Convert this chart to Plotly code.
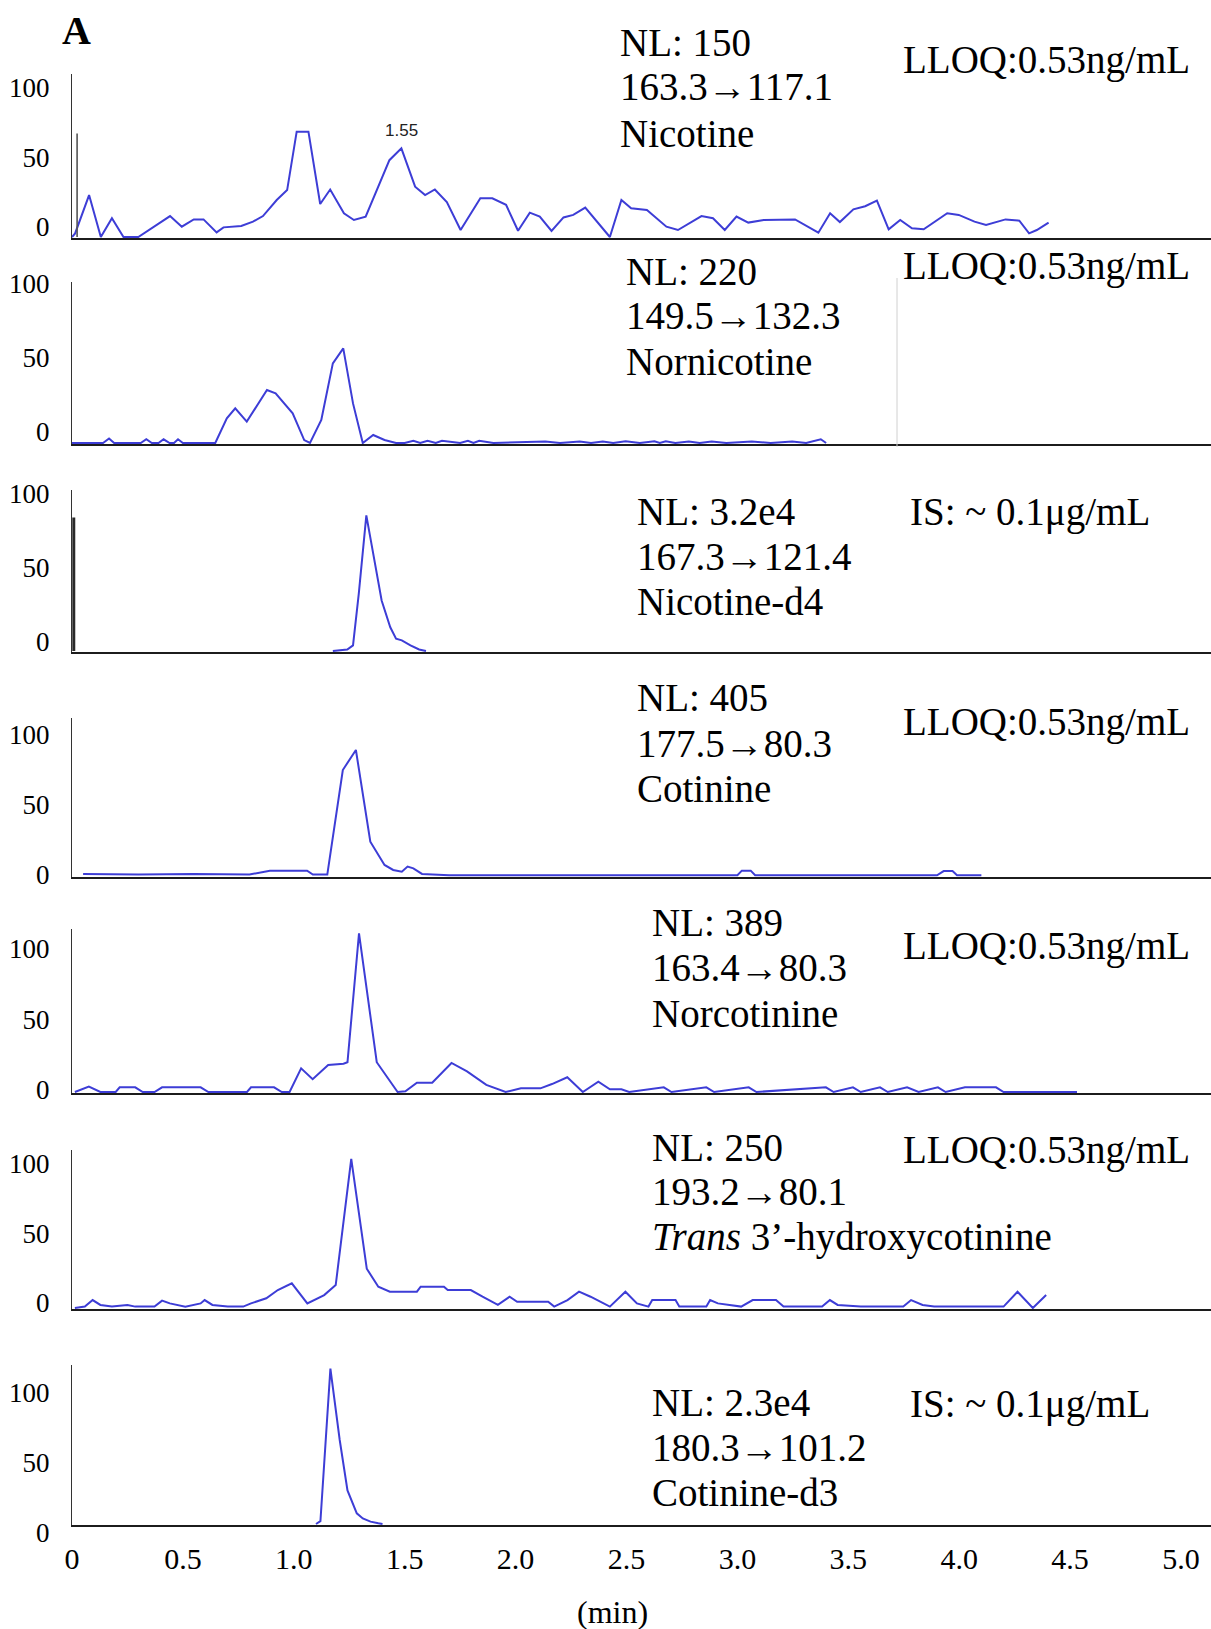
import plotly.graph_objects as go

# ---------------------------------------------------------------
# Chromatogram traces: (retention time / min, relative abundance / %)
# ---------------------------------------------------------------
NICOTINE = [
    (0.0, 0), (0.014, 2.6), (0.077, 30), (0.130, 0), (0.180, 13.4), (0.232, 0),
    (0.299, 0), (0.442, 15), (0.495, 7.4), (0.549, 12.6), (0.593, 12.6), (0.652, 3.3),
    (0.683, 6.9), (0.763, 7.9), (0.816, 11), (0.861, 15), (0.923, 26.5), (0.970, 33.6),
    (1.013, 75.4), (1.066, 75.4), (1.119, 23.6), (1.164, 34), (1.226, 17), (1.271, 12.2),
    (1.324, 14.6), (1.431, 55), (1.485, 63.5), (1.547, 36), (1.592, 30), (1.636, 34),
    (1.690, 25), (1.752, 5), (1.841, 27.7), (1.895, 27.7), (1.957, 23), (2.011, 4.5),
    (2.064, 17.4), (2.109, 14.6), (2.162, 4.3), (2.216, 14), (2.260, 15.8), (2.314, 21),
    (2.425, 0), (2.477, 26.5), (2.521, 20.5), (2.592, 19.3), (2.680, 7.4), (2.732, 5),
    (2.838, 15), (2.890, 13.4), (2.943, 5), (2.996, 14.6), (3.049, 10.3), (3.119, 12.2),
    (3.260, 12.6), (3.365, 3.1), (3.418, 17), (3.462, 10.7), (3.523, 19.8), (3.576, 22),
    (3.629, 26), (3.682, 5.5), (3.734, 12.2), (3.787, 6.2), (3.840, 5.5), (3.946, 17),
    (3.998, 15.8), (4.069, 11), (4.121, 8.6), (4.209, 12.6), (4.271, 11.7), (4.315, 2.6),
    (4.350, 5), (4.403, 10.3),
]

NORNICOTINE = [
    (0.0, 0), (0.14, 0), (0.167, 3), (0.19, 0), (0.31, 0), (0.335, 2.5), (0.36, 0),
    (0.39, 0), (0.413, 2.5), (0.44, 0), (0.46, 0), (0.478, 2.5), (0.50, 0), (0.646, 0),
    (0.698, 16.6), (0.736, 23.4), (0.788, 14.4), (0.879, 35.7), (0.918, 33.5), (0.995, 20),
    (1.047, 2), (1.073, 0), (1.124, 15.5), (1.176, 53.7), (1.223, 63.8), (1.267, 26.7),
    (1.311, 0), (1.358, 5.4), (1.409, 2), (1.461, 0), (1.50, 0), (1.539, 1.5), (1.57, 0),
    (1.603, 1.5), (1.64, 0), (1.668, 1.5), (1.75, 0), (1.785, 1.5), (1.81, 0), (1.836, 1.5),
    (1.9, 0), (2.134, 1), (2.2, 0), (2.289, 1), (2.34, 0), (2.393, 1), (2.44, 0),
    (2.496, 1.2), (2.56, 0), (2.626, 1.2), (2.65, 0), (2.677, 1.2), (2.72, 0), (2.781, 1),
    (2.83, 0), (2.884, 1), (2.95, 0), (3.065, 1), (3.15, 0), (3.247, 1), (3.31, 0),
    (3.376, 2.5), (3.40, 0),
]

NICOTINE_D4 = [
    (1.176, 0), (1.241, 1), (1.267, 3.8), (1.293, 38.6), (1.327, 91.4), (1.358, 65.6),
    (1.396, 34), (1.435, 16), (1.461, 8.3), (1.487, 7.2), (1.526, 3.8), (1.565, 1),
    (1.596, 0),
]

COTININE = [
    (0.05, 1.5), (0.30, 1.0), (0.55, 1.5), (0.788, 1.5), (0.80, 1.0), (0.892, 3.8),
    (1.060, 3.8), (1.086, 1.0), (1.151, 1.0), (1.221, 75.7), (1.280, 90), (1.345, 24.5),
    (1.409, 7.9), (1.448, 4.3), (1.487, 3.1), (1.513, 6.7), (1.539, 5.5), (1.578, 1.5),
    (1.70, 0.5), (2.50, 0.5), (3.00, 0.5), (3.02, 3.8), (3.06, 3.8), (3.08, 0.5),
    (3.90, 0.5), (3.93, 3.5), (3.97, 3.5), (3.99, 0.5), (4.10, 0.5),
]

NORCOTININE = [
    (0.013, 0), (0.076, 3.8), (0.128, 0), (0.197, 0), (0.215, 3.3), (0.285, 3.3),
    (0.319, 0), (0.372, 0), (0.406, 3.3), (0.580, 3.3), (0.615, 0), (0.789, 0),
    (0.807, 3.3), (0.911, 3.3), (0.946, 0), (0.981, 0), (1.033, 16.7), (1.085, 9),
    (1.155, 19), (1.224, 20), (1.242, 21), (1.294, 112), (1.374, 21), (1.468, 0),
    (1.503, 0.5), (1.555, 6.6), (1.624, 6.6), (1.711, 20.5), (1.781, 14.6), (1.868, 5),
    (1.955, 0), (2.024, 2.6), (2.112, 2.6), (2.164, 5.6), (2.233, 10.4), (2.303, 0),
    (2.373, 7.3), (2.425, 1.9), (2.477, 1.9), (2.512, 0), (2.668, 3.3), (2.703, 0),
    (2.860, 3.3), (2.895, 0), (3.051, 3.3), (3.086, 0), (3.399, 3.3), (3.434, 0),
    (3.521, 3.3), (3.556, 0), (3.643, 3.3), (3.678, 0), (3.765, 3.3), (3.817, 0),
    (3.904, 3.3), (3.939, 0), (4.026, 3.3), (4.166, 3.3), (4.200, 0), (4.287, 0),
    (4.444, 0), (4.531, 0),
]

HYDROXYCOTININE = [
    (0.013, 0), (0.058, 1), (0.093, 5.7), (0.128, 2.2), (0.180, 1), (0.250, 2.2),
    (0.285, 1), (0.372, 1), (0.406, 5.3), (0.441, 3.3), (0.511, 1), (0.580, 3.3),
    (0.598, 5.7), (0.633, 2.2), (0.702, 1), (0.772, 1), (0.807, 3.3), (0.876, 7),
    (0.928, 12.9), (0.991, 17.7), (1.061, 3.3), (1.137, 9.3), (1.189, 16.5), (1.259, 107),
    (1.329, 28.2), (1.381, 15.3), (1.433, 11.7), (1.555, 11.7), (1.572, 15.3), (1.677, 15.3),
    (1.694, 12.9), (1.798, 12.9), (1.851, 8.1), (1.920, 2.2), (1.973, 8.1), (2.007, 4.5),
    (2.147, 4.5), (2.174, 1), (2.234, 5.7), (2.286, 11.7), (2.338, 8.1), (2.425, 1),
    (2.495, 11.7), (2.547, 3.3), (2.599, 1), (2.616, 5.7), (2.721, 5.7), (2.738, 1),
    (2.860, 1), (2.877, 5.7), (2.912, 3.3), (3.017, 1), (3.069, 5.7), (3.174, 5.7),
    (3.208, 1), (3.382, 1), (3.417, 5.7), (3.452, 2.2), (3.556, 1), (3.748, 1),
    (3.783, 5.7), (3.835, 2.2), (3.887, 1), (4.200, 1), (4.263, 11.7), (4.332, 0),
    (4.392, 9.3),
]

COTININE_D3 = [
    (1.10, 0), (1.12, 2), (1.165, 111), (1.207, 60), (1.242, 24), (1.284, 7.6),
    (1.311, 4), (1.346, 1.7), (1.381, 0.5), (1.40, 0),
]

# injection spikes at the start of two traces (time, height)
NICOTINE_SPIKE = (0.023, 74)
NICOTINE_D4_SPIKE = (0.008, 90)

TRACES = [NICOTINE, NORNICOTINE, NICOTINE_D4, COTININE,
          NORCOTININE, HYDROXYCOTININE, COTININE_D3]

LABELS = [
    ("NL: 150", "163.3→117.1", "Nicotine", "LLOQ:0.53ng/mL"),
    ("NL: 220", "149.5→132.3", "Nornicotine", "LLOQ:0.53ng/mL"),
    ("NL: 3.2e4", "167.3→121.4", "Nicotine-d4", "IS: ~ 0.1μg/mL"),
    ("NL: 405", "177.5→80.3", "Cotinine", "LLOQ:0.53ng/mL"),
    ("NL: 389", "163.4→80.3", "Norcotinine", "LLOQ:0.53ng/mL"),
    ("NL: 250", "193.2→80.1", "<i>Trans</i> 3’-hydroxycotinine", "LLOQ:0.53ng/mL"),
    ("NL: 2.3e4", "180.3→101.2", "Cotinine-d3", "IS: ~ 0.1μg/mL"),
]

Y_TICKS = [0, 50, 100]
X_TICKS = [0, 0.5, 1.0, 1.5, 2.0, 2.5, 3.0, 3.5, 4.0, 4.5, 5.0]
X_TICK_TEXT = ["0", "0.5", "1.0", "1.5", "2.0", "2.5", "3.0", "3.5", "4.0", "4.5", "5.0"]

# ---------------------------------------------------------------
# Page geometry (pixels)
# ---------------------------------------------------------------
W, H = 1211, 1629
X0_PX = 72            # retention time 0
PX_PER_MIN = 221.8
X_MAX = (W - X0_PX) / PX_PER_MIN
Y_MIN = -0.8

# per panel: baseline px, axis top px, px per %, tick-label lift (px),
#            x of left text block, y of its three lines, y of right-hand note
PANELS = [
    dict(base=237, top=74, ppu=1.397, lift=10, tx=618, ty=(42, 87, 133), ry=60),
    dict(base=443, top=282, ppu=1.484, lift=11, tx=624, ty=(271, 315, 361), ry=266),
    dict(base=651, top=490, ppu=1.484, lift=9, tx=635, ty=(512, 556, 601), ry=512),
    dict(base=876, top=718, ppu=1.400, lift=1, tx=635, ty=(697, 743, 788), ry=722),
    dict(base=1092, top=929, ppu=1.417, lift=2, tx=650, ty=(922, 967, 1013), ry=946),
    dict(base=1308, top=1150, ppu=1.393, lift=5, tx=650, ty=(1147, 1191, 1237), ry=1150),
    dict(base=1524, top=1365, ppu=1.400, lift=-9, tx=650, ty=(1402, 1447, 1492), ry=1404),
]

SERIF = "Liberation Serif, DejaVu Serif, serif"
TRACE_BLUE = "#3d3dd6"
TEXT_SIZE = 39


def py(px):
    """Pixel row -> paper y."""
    return 1 - px / H


fig = go.Figure()
layout = dict(
    width=W, height=H, autosize=False,
    margin=dict(l=0, r=0, t=0, b=0, pad=0),
    paper_bgcolor="white", plot_bgcolor="white",
    showlegend=False,
    font=dict(family=SERIF, color="black"),
)
annotations = []
shapes = []

n = len(PANELS)
for k, (p, data, lab) in enumerate(zip(PANELS, TRACES, LABELS), start=1):
    xa = "x" if k == 1 else f"x{k}"
    ya = "y" if k == 1 else f"y{k}"
    t = [d[0] for d in data]
    v = [d[1] for d in data]
    fig.add_trace(go.Scatter(x=t, y=v, mode="lines", xaxis=xa, yaxis=ya,
                             line=dict(color=TRACE_BLUE, width=2),
                             hoverinfo="skip"))

    y_top = (p["base"] - p["top"]) / p["ppu"]
    bottom_px = p["base"] - Y_MIN * p["ppu"]
    last = k == n
    layout["xaxis" if k == 1 else f"xaxis{k}"] = dict(
        domain=[X0_PX / W, 1], range=[0, X_MAX], anchor=ya,
        showline=True, linecolor="#1c1c1c", linewidth=2,
        showgrid=False, zeroline=False, ticks="", automargin=False,
        showticklabels=last,
        tickvals=X_TICKS, ticktext=X_TICK_TEXT,
        tickfont=dict(family=SERIF, size=30, color="black"),
        ticklabelstandoff=6,
    )
    layout["yaxis" if k == 1 else f"yaxis{k}"] = dict(
        domain=[py(bottom_px), py(p["top"])], range=[Y_MIN, y_top], anchor=xa,
        showline=True, linecolor="#333333", linewidth=1.2,
        showgrid=False, zeroline=False, ticks="", automargin=False,
        tickvals=Y_TICKS, tickfont=dict(family=SERIF, size=27, color="black"),
        ticklabelshift=-p["lift"], ticklabelstandoff=16,
    )

    for txt, yy in zip(lab[:3], p["ty"]):
        annotations.append(dict(text=txt, x=p["tx"] / W, y=py(yy), xref="paper", yref="paper",
                                xanchor="left", yanchor="middle", showarrow=False,
                                font=dict(family=SERIF, size=TEXT_SIZE, color="black")))
    note = lab[3]
    annotations.append(dict(text=note, x=(1192 if note.startswith("LLOQ") else 1152) / W,
                            y=py(p["ry"]), xref="paper", yref="paper",
                            xanchor="right", yanchor="middle", showarrow=False,
                            font=dict(family=SERIF, size=TEXT_SIZE, color="black")))

# injection spikes
for (st, sh), ax, col, wd in [(NICOTINE_SPIKE, ("x", "y"), "#555555", 1.6),
                              (NICOTINE_D4_SPIKE, ("x3", "y3"), "#2a2a2a", 3)]:
    fig.add_trace(go.Scatter(x=[st, st], y=[0, sh], mode="lines", xaxis=ax[0], yaxis=ax[1],
                             line=dict(color=col, width=wd), hoverinfo="skip"))

# retention-time label on the second nicotine peak
annotations.append(dict(text="1.55", x=1.485, y=68, xref="x", yref="y",
                        xanchor="center", yanchor="bottom", showarrow=False,
                        font=dict(family="Liberation Sans Narrow, Liberation Sans, sans-serif",
                                  size=17, color="#222222")))

# panel letter and time-axis caption
annotations.append(dict(text="<b>A</b>", x=76 / W, y=py(31), xref="paper", yref="paper",
                        xanchor="center", yanchor="middle", showarrow=False,
                        font=dict(family=SERIF, size=40, color="black")))
annotations.append(dict(text="(min)", x=612 / W, y=py(1612), xref="paper", yref="paper",
                        xanchor="center", yanchor="middle", showarrow=False,
                        font=dict(family=SERIF, size=32, color="black")))

# thin grey frame edge to the right of the nornicotine trace
shapes.append(dict(type="line", xref="paper", yref="paper",
                   x0=897 / W, x1=897 / W, y0=py(447), y1=py(278),
                   line=dict(color="#d0d0d0", width=1)))

layout["annotations"] = annotations
layout["shapes"] = shapes
fig.update_layout(**layout)

fig.write_html("out.html")
